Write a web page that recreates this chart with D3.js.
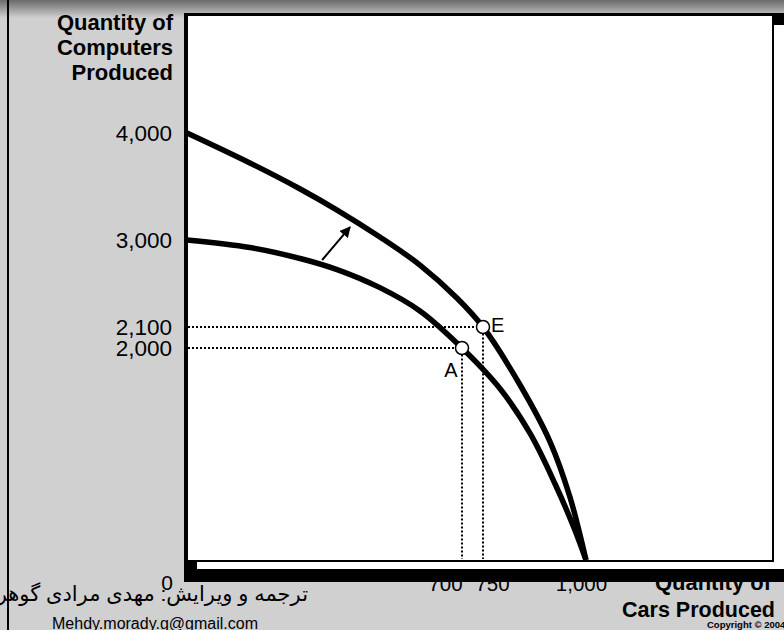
<!DOCTYPE html>
<html>
<head>
<meta charset="utf-8">
<script src="https://cdn.jsdelivr.net/npm/d3@7"></script>
<style>
  html, body { margin: 0; padding: 0; background: #d0d0d0; }
  svg { display: block; }
  text { font-family: "Liberation Sans", Arial, "DejaVu Sans", sans-serif; fill: #000; }
</style>
</head>
<body>
<div id="chart"></div>
<script>
// production possibilities data (cars, computers)
const pathBefore = [
  [0, 3000], [160, 2922], [288, 2809], [382, 2694], [491, 2507], [593, 2266],
  [700, 2000], [792, 1613], [865, 1189], [925, 717], [971, 302], [1000, 0]
];
const pathAfter = [
  [0, 4000], [160, 3720], [288, 3477], [382, 3280], [491, 3028], [593, 2741],
  [687, 2400], [750, 2100], [840, 1651], [913, 1113], [961, 594], [1000, 0]
];
const pointNames = ['A', 'E'];
const pointCars = [700, 750];
const pointComputers = [2000, 2100];
const xTicks = [700, 750, 1000];
const yTicks = [2000, 2100, 3000, 4000];
const shiftArrow = [[344, 2793], [415, 3121]];

const W = 784, H = 630;
const svg = d3.select('#chart').append('svg')
  .attr('width', W).attr('height', H)
  .attr('viewBox', `0 0 ${W} ${H}`);

const defs = svg.append('defs');
const grad = defs.append('linearGradient').attr('id', 'topfade')
  .attr('x1', 0).attr('y1', 0).attr('x2', 0).attr('y2', 1);
grad.append('stop').attr('offset', '0%').attr('stop-color', '#6a6a6a');
grad.append('stop').attr('offset', '100%').attr('stop-color', '#d0d0d0');
defs.append('marker').attr('id', 'head')
  .attr('viewBox', '0 0 10 10').attr('refX', 9).attr('refY', 5)
  .attr('markerWidth', 5.5).attr('markerHeight', 5.5).attr('orient', 'auto')
  .append('path').attr('d', 'M0,0 L10,5 L0,10 z').attr('fill', '#000');

svg.append('rect').attr('width', W).attr('height', H).attr('fill', '#d0d0d0');
svg.append('rect').attr('width', W).attr('height', 18).attr('fill', 'url(#topfade)');

// schematic (piecewise) scales, like the slide
const x = d3.scaleLinear().domain([0, 700, 750, 1000]).range([187, 462, 483, 586]);
const y = d3.scaleLinear().domain([0, 2000, 2100, 3000, 4000]).range([560, 348, 327, 240, 133]);

// x tick labels sit partly behind the frame
const xLabelShift = {700: -17, 750: 9, 1000: -5};
const xAxis = d3.axisBottom(x).tickValues(xTicks).tickSize(0).tickPadding(16).tickFormat(d3.format(','));
const gx = svg.append('g').attr('transform', `translate(0,${y(0)})`).call(xAxis);
gx.select('.domain').remove();
gx.selectAll('text').attr('font-size', 20.5).attr('font-family', null)
  .attr('dx', d => xLabelShift[d]);

svg.append('text').attr('x', 771).attr('y', 590).attr('text-anchor', 'end')
  .attr('font-size', 22).attr('font-weight', 'bold').text('Quantity of');

// frame
svg.append('rect').attr('x', 184).attr('y', 13).attr('width', 620).attr('height', 569).attr('fill', '#000');
svg.append('rect').attr('x', 197).attr('y', 25).attr('width', 610).attr('height', 544).attr('fill', '#fff');
svg.append('rect').attr('x', 187).attr('y', 15).attr('width', 586).attr('height', 546)
  .attr('fill', '#fff').attr('stroke', '#000').attr('stroke-width', 2);

const g = svg.append('g');
const r = 6.5;

// guide lines
pointNames.forEach((n, i) => {
  const px = x(pointCars[i]), py = y(pointComputers[i]);
  g.append('line').attr('x1', x(0) + 1).attr('x2', px - r).attr('y1', py).attr('y2', py)
    .attr('stroke', '#000').attr('stroke-width', 2).attr('stroke-dasharray', '2,2');
  g.append('line').attr('x1', px).attr('x2', px).attr('y1', py + r).attr('y2', y(0) - 1)
    .attr('stroke', '#000').attr('stroke-width', 2).attr('stroke-dasharray', '2,2');
});

const line = d3.line().x(d => x(d[0])).y(d => y(d[1])).curve(d3.curveCatmullRom.alpha(0.5));
[pathBefore, pathAfter].forEach(p => {
  g.append('path').attr('d', line(p)).attr('fill', 'none')
    .attr('stroke', '#000').attr('stroke-width', 5.5).attr('stroke-linecap', 'butt');
});

g.append('line')
  .attr('x1', x(shiftArrow[0][0])).attr('y1', y(shiftArrow[0][1]))
  .attr('x2', x(shiftArrow[1][0])).attr('y2', y(shiftArrow[1][1]))
  .attr('stroke', '#000').attr('stroke-width', 2).attr('marker-end', 'url(#head)');

pointNames.forEach((n, i) => {
  const px = x(pointCars[i]), py = y(pointComputers[i]);
  g.append('circle').attr('cx', px).attr('cy', py).attr('r', r)
    .attr('fill', '#fff').attr('stroke', '#000').attr('stroke-width', 1.5);
  if (n === 'A') {
    g.append('text').attr('x', px - 11).attr('y', py + 29).attr('text-anchor', 'middle')
      .attr('font-size', 20).text(n);
  } else {
    g.append('text').attr('x', px + 8).attr('y', py + 5).attr('text-anchor', 'start')
      .attr('font-size', 20).text(n);
  }
});

// y axis labels
const yAxis = d3.axisLeft(y).tickValues(yTicks).tickSize(0).tickPadding(15).tickFormat(d3.format(','));
const gy = svg.append('g').attr('transform', `translate(${x(0)},0)`).call(yAxis);
gy.select('.domain').remove();
gy.selectAll('text').attr('font-size', 22.5).attr('font-family', null);

svg.append('text').attr('x', x(0) - 20).attr('y', y(0) + 30).attr('text-anchor', 'middle')
  .attr('font-size', 21).text('0');

const yTitle = ['Quantity of', 'Computers', 'Produced'];
svg.append('text').attr('font-size', 22).attr('font-weight', 'bold').attr('text-anchor', 'end')
  .selectAll('tspan').data(yTitle).enter().append('tspan')
  .attr('x', 173).attr('y', (d, i) => 30 + i * 25).text(d => d);

svg.append('text').attr('x', 775).attr('y', 617).attr('text-anchor', 'end')
  .attr('font-size', 21.5).attr('font-weight', 'bold').text('Cars Produced');
svg.append('text').attr('x', 707).attr('y', 628)
  .attr('font-size', 9.5).attr('font-weight', 'bold').text('Copyright © 2004 South-Western');

svg.append('text').attr('x', 308).attr('y', 601).attr('text-anchor', 'end')
  .attr('font-size', 21).text('ترجمه و ویرایش: مهدی مرادی گوهره');
svg.append('text').attr('x', 155).attr('y', 629).attr('text-anchor', 'middle')
  .attr('font-size', 16).text('Mehdy.morady.g@gmail.com');

svg.append('line').attr('x1', 8).attr('x2', 8).attr('y1', 0).attr('y2', H)
  .attr('stroke', '#000').attr('stroke-width', 2);
</script>
</body>
</html>
